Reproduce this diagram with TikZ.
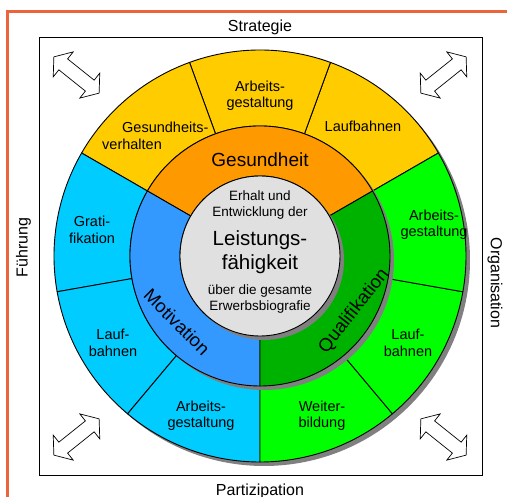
\documentclass[tikz,border=0pt]{standalone}
\usepackage{fontspec}
\setmainfont{Liberation Sans}
\definecolor{frameorange}{RGB}{235,100,60}
\definecolor{cyellow}{RGB}{255,204,0}
\definecolor{corange}{RGB}{255,153,0}
\definecolor{ccyan}{RGB}{0,204,255}
\definecolor{cblue}{RGB}{51,153,255}
\definecolor{cgreen}{RGB}{0,255,0}
\definecolor{cdgreen}{RGB}{0,178,0}
\definecolor{cinner}{RGB}{224,224,224}
\definecolor{cshadow}{RGB}{128,128,128}
\newcommand\ringsector[5]{%
  \filldraw[sector, fill=#1] (#2:#4) arc[start angle=#2, end angle=#3, radius=#4] -- (#3:#5) arc[start angle=#3, end angle=#2, radius=#5] -- cycle;}
\tikzset{
  sector/.style={draw=black, line width=0.9pt, line join=round},
  shadowdisk/.style={fill=cshadow},
  sidelbl/.style={inner sep=0pt, font=\fontsize{16}{18}\selectfont},
  lbl/.style={inner sep=0pt, align=center, font=\fontsize{14.5}{16.5}\selectfont},
  ringlbl/.style={inner sep=0pt, font=\fontsize{19}{22}\selectfont},
  arclbl/.style={inner sep=0pt, font=\fontsize{18.5}{22}\selectfont},
  smalllbl/.style={inner sep=0pt, align=center, font=\fontsize{13.5}{16}\selectfont},
  biglbl/.style={inner sep=0pt, align=center, font=\fontsize{20.5}{24}\selectfont},
  dblarrow/.pic={\draw[line width=0.7pt, fill=white, line join=miter] (-29,0) -- (-17,16) -- (-17,7) -- (17,7) -- (17,16) -- (29,0) -- (17,-16) -- (17,-7) -- (-17,-7) -- (-17,-16) -- cycle;}
}
\begin{document}
\begin{tikzpicture}[x=1pt,y=1pt]
\useasboundingbox (-260,-241) rectangle (247,256);
\fill[white] (-260,-241) rectangle (247,256);
% orange frame
\draw[frameorange, line width=3pt] (250,244) -- (-252,244) -- (-252,-245);
% black box
\draw[line width=0.9pt] (-221,-219) rectangle (222,219);
% side labels
\node[sidelbl, anchor=base] (strat) at (0,224) {Strategie};
\node[sidelbl, anchor=base] (part) at (0,-240) {Partizipation};
\node[sidelbl, rotate=90] (fuehr) at (-236.5,8.5) {Führung};
\node[sidelbl, rotate=-90] (org) at (235,-27) {Organisation};
% corner arrows
\pic[rotate=-38.7] at (-183.5,181) {dblarrow};
\pic[rotate=38.7] at (183.5,181) {dblarrow};
\pic[rotate=38.7] at (-183.5,-181) {dblarrow};
\pic[rotate=-38.7] at (183.5,-181) {dblarrow};
% outer ring
\fill[shadowdisk] (4,-4) circle[radius=206pt];
\ringsector{cyellow}{30}{70}{206pt}{130pt}
\ringsector{cyellow}{70}{110}{206pt}{130pt}
\ringsector{cyellow}{110}{150}{206pt}{130pt}
\ringsector{ccyan}{150}{190}{206pt}{130pt}
\ringsector{ccyan}{190}{230}{206pt}{130pt}
\ringsector{ccyan}{230}{270}{206pt}{130pt}
\ringsector{cgreen}{270}{310}{206pt}{130pt}
\ringsector{cgreen}{310}{350}{206pt}{130pt}
\ringsector{cgreen}{350}{390}{206pt}{130pt}
% middle ring
\fill[shadowdisk] (4,-4) circle[radius=130pt];
\ringsector{corange}{30}{150}{130pt}{80pt}
\ringsector{cblue}{150}{270}{130pt}{80pt}
\ringsector{cdgreen}{270}{390}{130pt}{80pt}
% inner disk
\fill[shadowdisk] (4,-4) circle[radius=80pt];
\filldraw[sector, fill=cinner] (0,0) circle[radius=80pt];
% outer labels
\node[lbl, anchor=west, align=left] (gv) at (-158,120) {\hspace*{20pt}Gesundheits-\\verhalten};
\node[lbl] (ag1) at (0,160) {Arbeits-\\gestaltung};
\node[lbl] (lb1) at (103,130) {Laufbahnen};
\node[lbl] (grat) at (-168,26) {Grati-\\fikation};
\node[lbl] (ag2) at (174,31) {Arbeits-\\gestaltung};
\node[lbl] (lb2) at (-147,-87) {Lauf-\\bahnen};
\node[lbl] (lb3) at (148,-87) {Lauf-\\bahnen};
\node[lbl] (ag3) at (-59,-160) {Arbeits-\\gestaltung};
\node[lbl] (wb) at (62,-160) {Weiter-\\bildung};
% middle labels
\node[ringlbl] (ges) at (0,96) {Gesundheit};
\node[arclbl, rotate=-45] (mot) at (-83,-66) {Motivation};
\node[arclbl, rotate=52] (qual) at (94,-55) {Qualifikation};
% inner labels
\node[smalllbl] (erh) at (0,51) {Erhalt und\\Entwicklung der};
\node[biglbl] (lf) at (0,4) {Leistungs-\\fähigkeit};
\node[smalllbl] (ueb) at (0,-42.7) {über die gesamte\\Erwerbsbiografie};
\end{tikzpicture}
\end{document}
